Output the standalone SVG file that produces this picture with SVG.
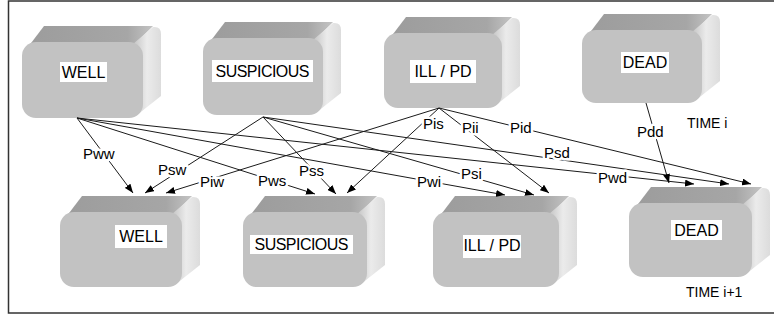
<svg xmlns="http://www.w3.org/2000/svg" width="774" height="320" viewBox="0 0 774 320">
<style>
.front{fill:#c2c2c2}
.top{fill:url(#gTop)}
.side{fill:url(#gSide)}
.lbox{fill:#fff}
.ntxt{font-family:"Liberation Sans",Arial,sans-serif;font-size:16px;fill:#000;text-anchor:middle}
.ctxt{font-family:"Liberation Sans",Arial,sans-serif;font-size:15px;fill:#000;stroke:#fff;stroke-width:5px;paint-order:stroke;stroke-linejoin:round}
.ttxt{font-family:"Liberation Sans",Arial,sans-serif;font-size:14px;fill:#000}
.edge{fill:none;stroke:#1a1a1a;stroke-width:1;marker-end:url(#arr)}
</style>
<defs>
<linearGradient id="gTop" x1="0" y1="0" x2="1" y2="0">
<stop offset="0" stop-color="#9c9c9c"/><stop offset="0.8" stop-color="#a6a6a6"/><stop offset="1" stop-color="#c4c4c4"/>
</linearGradient>
<linearGradient id="gSide" x1="0" y1="0" x2="1" y2="0">
<stop offset="0" stop-color="#c4c4c4"/><stop offset="0.5" stop-color="#ebebeb"/><stop offset="1" stop-color="#dcdcdc"/>
</linearGradient>
<marker id="arr" markerUnits="userSpaceOnUse" markerWidth="9" markerHeight="7" refX="9" refY="3.5" orient="auto">
<path d="M0,0 L9,3.5 L0,7 Z" fill="#000"/>
</marker>
</defs>
<rect x="8.5" y="1" width="780" height="312" fill="#fff" stroke="#333" stroke-width="1.5"/>

<g id="n-well-i">
<g transform="translate(22,42)"><path class="top" d="M3,9 L22,-16 L131,-16 L113,2 Z"/><path class="side" d="M111,2 L131,-15 Q139,-16 139,-8 L139,54 L115,73 Z"/><rect class="front" x="0" y="0" width="121" height="76" rx="14"/></g>
<rect class="lbox" x="60" y="62" width="47" height="20"/><text class="ntxt" x="83.5" y="78">WELL</text>
</g>
<g id="n-susp-i">
<g transform="translate(203,38)"><path class="top" d="M3,9 L22,-16 L130,-16 L112,2 Z"/><path class="side" d="M110,2 L130,-15 Q138,-16 138,-8 L138,55 L114,74 Z"/><rect class="front" x="0" y="0" width="120" height="77" rx="14"/></g>
<rect class="lbox" x="212" y="60" width="101" height="22"/><text class="ntxt" x="262.5" y="77" textLength="94">SUSPICIOUS</text>
</g>
<g id="n-ill-i">
<g transform="translate(384,33)"><path class="top" d="M3,9 L22,-16 L128,-16 L110,2 Z"/><path class="side" d="M108,2 L128,-15 Q136,-16 136,-8 L136,53 L112,72 Z"/><rect class="front" x="0" y="0" width="118" height="75" rx="14"/></g>
<rect class="lbox" x="410" y="60" width="66" height="23"/><text class="ntxt" x="443" y="77">ILL / PD</text>
</g>
<g id="n-dead-i">
<g transform="translate(582,30)"><path class="top" d="M3,9 L22,-16 L130,-16 L112,2 Z"/><path class="side" d="M110,2 L130,-15 Q138,-16 138,-8 L138,51 L114,70 Z"/><rect class="front" x="0" y="0" width="120" height="73" rx="14"/></g>
<rect class="lbox" x="621" y="52" width="48" height="21"/><text class="ntxt" x="645" y="68">DEAD</text>
</g>

<g id="n-well-i1">
<g transform="translate(60,212)"><path class="top" d="M3,9 L22,-16 L132,-16 L114,2 Z"/><path class="side" d="M112,2 L132,-15 Q140,-16 140,-8 L140,53 L116,72 Z"/><rect class="front" x="0" y="0" width="122" height="75" rx="14"/></g>
<rect class="lbox" x="115" y="225" width="52" height="23"/><text class="ntxt" x="141" y="242">WELL</text>
</g>
<g id="n-susp-i1">
<g transform="translate(243,212)"><path class="top" d="M3,9 L22,-16 L134,-16 L116,2 Z"/><path class="side" d="M114,2 L134,-15 Q142,-16 142,-8 L142,53 L118,72 Z"/><rect class="front" x="0" y="0" width="124" height="75" rx="14"/></g>
<rect class="lbox" x="250" y="235" width="103" height="19"/><text class="ntxt" x="301.5" y="250" textLength="94">SUSPICIOUS</text>
</g>
<g id="n-ill-i1">
<g transform="translate(433,212)"><path class="top" d="M3,9 L22,-16 L136,-16 L118,2 Z"/><path class="side" d="M116,2 L136,-15 Q144,-16 144,-8 L144,53 L120,72 Z"/><rect class="front" x="0" y="0" width="126" height="75" rx="14"/></g>
<rect class="lbox" x="463" y="235" width="58" height="23"/><text class="ntxt" x="492" y="251">ILL / PD</text>
</g>
<g id="n-dead-i1">
<g transform="translate(629,203)"><path class="top" d="M3,9 L22,-16 L133,-16 L115,2 Z"/><path class="side" d="M113,2 L133,-15 Q141,-16 141,-8 L141,52 L117,71 Z"/><rect class="front" x="0" y="0" width="123" height="74" rx="14"/></g>
<rect class="lbox" x="671" y="220" width="51" height="20"/><text class="ntxt" x="696.5" y="236">DEAD</text>
</g>

<text class="ttxt" x="687" y="128">TIME i</text>
<text class="ttxt" x="686" y="297">TIME i+1</text>

<g id="connectors">
<line class="edge" x1="77" y1="118" x2="133" y2="193"/>
<line class="edge" x1="77" y1="118" x2="315" y2="194"/>
<line class="edge" x1="77" y1="118" x2="505" y2="195"/>
<line class="edge" x1="77" y1="118" x2="694" y2="184"/>
<line class="edge" x1="263" y1="117" x2="145" y2="193"/>
<line class="edge" x1="263" y1="117" x2="336" y2="194"/>
<line class="edge" x1="263" y1="117" x2="534" y2="195"/>
<line class="edge" x1="263" y1="117" x2="729" y2="184"/>
<line class="edge" x1="439" y1="108" x2="166" y2="193"/>
<line class="edge" x1="439" y1="108" x2="347" y2="193"/>
<line class="edge" x1="439" y1="108" x2="549" y2="193"/>
<line class="edge" x1="439" y1="108" x2="751" y2="184"/>
<line class="edge" x1="646" y1="103" x2="669" y2="183"/>
<text class="ctxt" x="83" y="159">Pww</text>
<text class="ctxt" x="258" y="186">Pws</text>
<text class="ctxt" x="417" y="187">Pwi</text>
<text class="ctxt" x="598" y="183">Pwd</text>
<text class="ctxt" x="158" y="175">Psw</text>
<text class="ctxt" x="299" y="176">Pss</text>
<text class="ctxt" x="461" y="179">Psi</text>
<text class="ctxt" x="544" y="158">Psd</text>
<text class="ctxt" x="200" y="187">Piw</text>
<text class="ctxt" x="423" y="129">Pis</text>
<text class="ctxt" x="462" y="133">Pii</text>
<text class="ctxt" x="510" y="133">Pid</text>
<text class="ctxt" x="637" y="137">Pdd</text>
</g>
</svg>
